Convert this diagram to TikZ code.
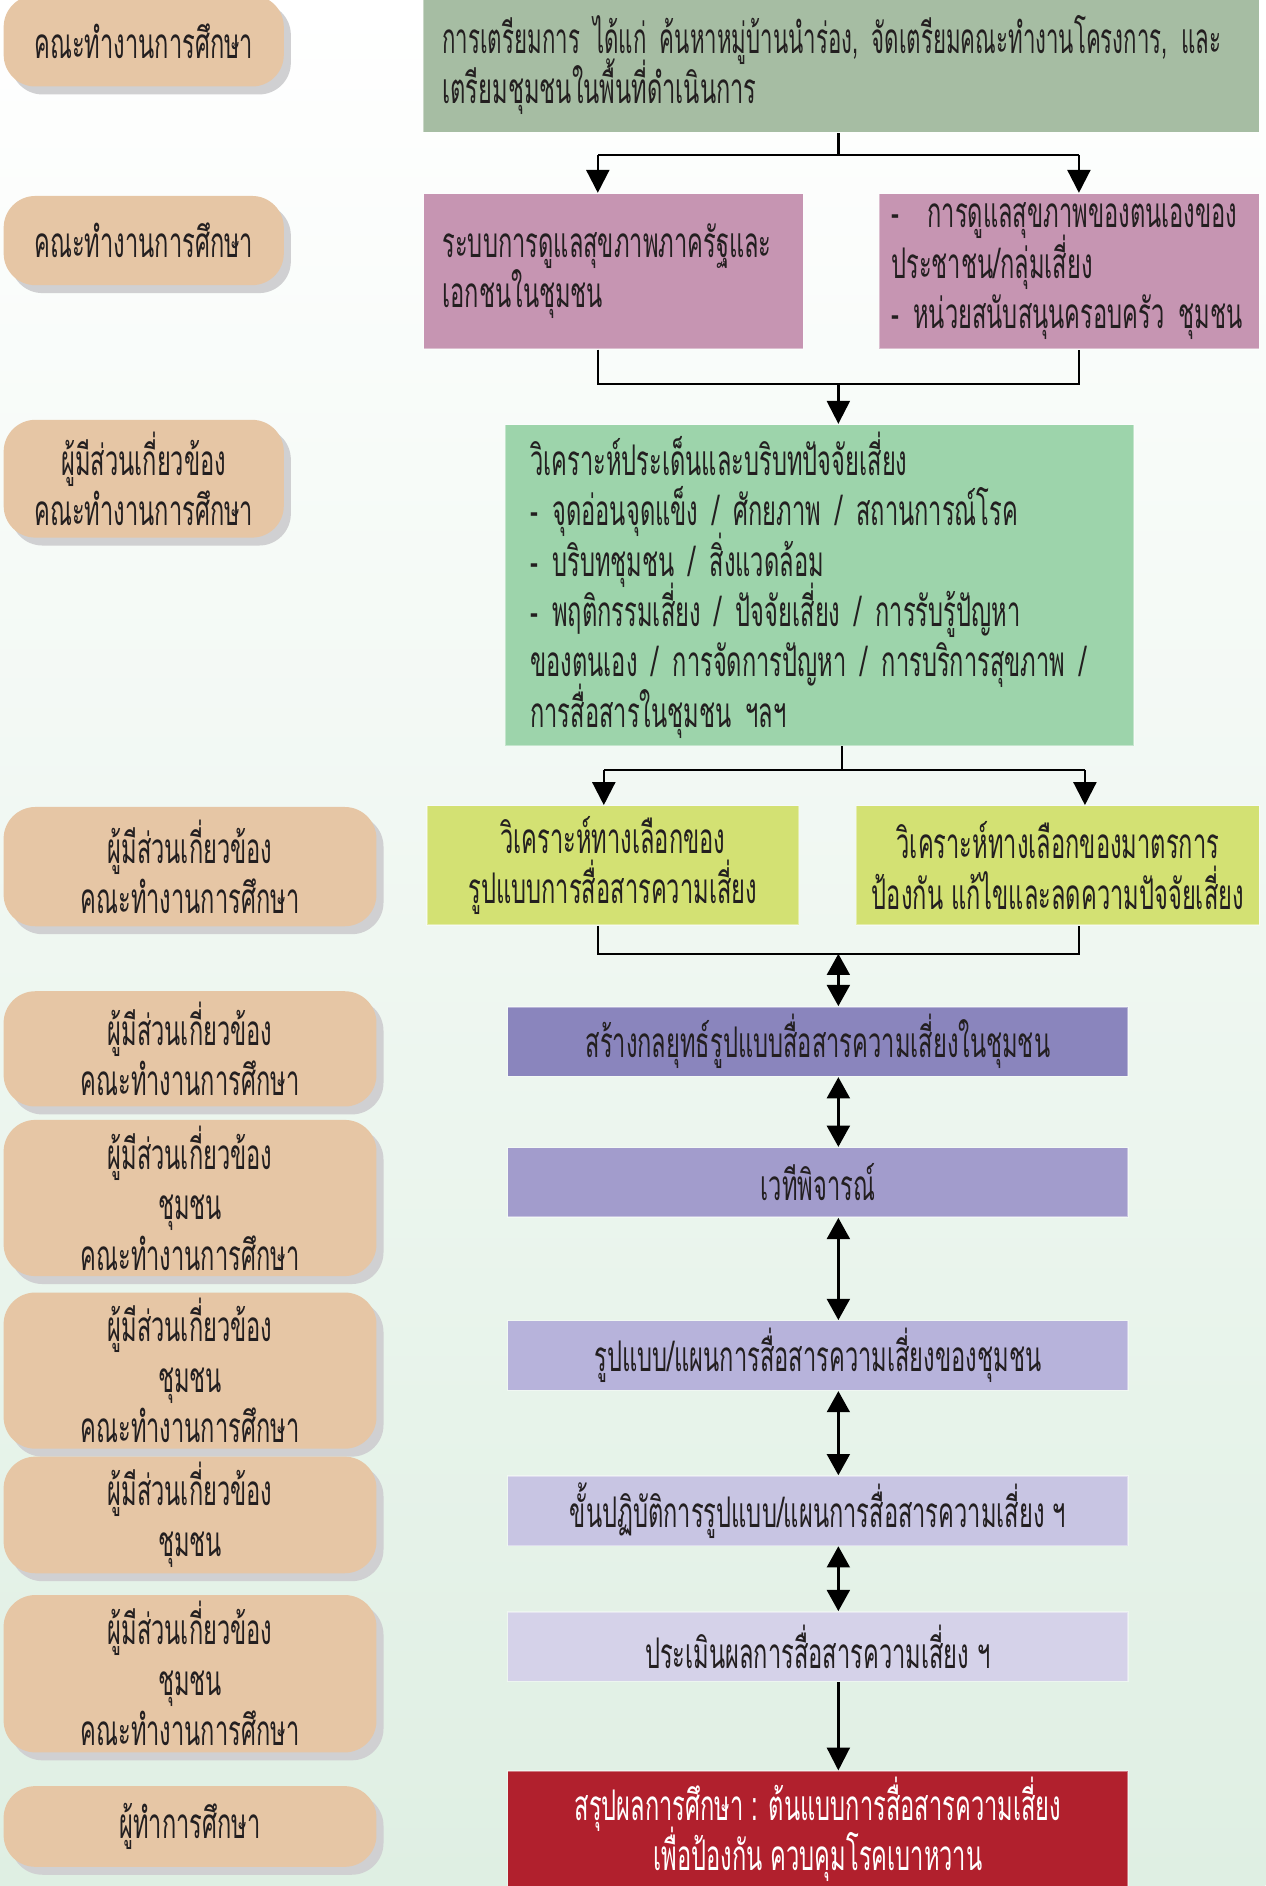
\documentclass[tikz,border=0pt]{standalone}
\usepackage{fontspec}
\newfontfamily\thaifont[Script=Thai,FakeStretch=0.56]{Loma}
\newcommand\thaitext{\thaifont\fontsize{24}{28.6}\selectfont
  \lineskiplimit=-30pt\relax}
\usetikzlibrary{arrows.meta,shadows}
\definecolor{ink}{HTML}{231F20}
\definecolor{tan}{HTML}{E6C6A5}
\definecolor{shade}{HTML}{D0D0D2}
\definecolor{sage}{HTML}{A6BDA3}
\definecolor{mauve}{HTML}{C695B2}
\definecolor{mint}{HTML}{9DD4AB}
\definecolor{lime}{HTML}{D3E173}
\definecolor{violetA}{HTML}{8A85BD}
\definecolor{violetB}{HTML}{A29CCC}
\definecolor{violetC}{HTML}{B7B3DB}
\definecolor{violetD}{HTML}{C8C5E3}
\definecolor{violetE}{HTML}{D5D2E9}
\definecolor{wine}{HTML}{B1202D}
\definecolor{bgmint}{HTML}{DFEFE3}
\begin{document}
\begin{tikzpicture}[
    x=0.024cm, y=-0.024cm,
    every node/.style={align=center, text=ink, font=\thaitext},
    role/.style={fill=tan, rounded corners=18pt,
      minimum width=5.59cm,
      copy shadow={shadow xshift=4pt, shadow yshift=-4.5pt,
        fill=shade, draw=none}},
    roleW/.style={role, minimum width=7.44cm},
    panel/.style={draw=white, draw opacity=0.4, line width=0.8pt,
      inner xsep=0.38cm, align=left},
    bar/.style={draw=white, draw opacity=0.4, line width=0.8pt,
      minimum width=12.38cm, minimum height=1.39cm},
    line/.style={line width=1.3pt},
    arr/.style={line, -{Triangle[width=13pt,length=13pt]}},
    both/.style={line, {Triangle[width=13pt,length=12pt]}-{Triangle[width=13pt,length=12pt]}}
  ]
    \useasboundingbox (0,0) rectangle (1052,1568);
    \fill[top color=white, middle color=white, bottom color=bgmint]
      (0,0) rectangle (1052,1568);

    \node[role, minimum height=1.82cm] (l1) at (119.5,34) {คณะทำงานการศึกษา};
    \node[role, minimum height=1.78cm] (l2) at (119.5,200) {คณะทำงานการศึกษา};
    \node[role, minimum height=2.35cm] (l3) at (119.5,398)
      {ผู้มีส่วนเกี่ยวข้อง\\คณะทำงานการศึกษา};
    \node[roleW, minimum height=2.38cm] (l4) at (158,720.5)
      {ผู้มีส่วนเกี่ยวข้อง\\คณะทำงานการศึกษา};
    \node[roleW, minimum height=2.3cm] (l5) at (158,872)
      {ผู้มีส่วนเกี่ยวข้อง\\คณะทำงานการศึกษา};
    \node[roleW, minimum height=2.93cm] (l6) at (158,996)
      {ผู้มีส่วนเกี่ยวข้อง\\ชุมชน\\คณะทำงานการศึกษา};
    \node[roleW, minimum height=2.76cm] (l7) at (158,1139.5)
      {ผู้มีส่วนเกี่ยวข้อง\\ชุมชน\\คณะทำงานการศึกษา};
    \node[roleW, minimum height=2.09cm] (l8) at (158,1259.5)
      {ผู้มีส่วนเกี่ยวข้อง\\ชุมชน};
    \node[roleW, minimum height=3.14cm] (l9) at (158,1391.5)
      {ผู้มีส่วนเกี่ยวข้อง\\ชุมชน\\คณะทำงานการศึกษา};
    \node[roleW, minimum height=1.61cm] (l10) at (158,1518.5) {ผู้ทำการศึกษา};

    \node[panel, fill=sage, text width=15.92cm, minimum height=2.69cm] (prep)
      at (699.5,54)
      {\scalebox{0.94}[1]{การเตรียมการ ได้แก่ ค้นหาหมู่บ้านนำร่อง, จัดเตรียมคณะทำงานโครงการ, และ}\\
       \mbox{เตรียมชุมชนในพื้นที่ดำเนินการ}};
    \node[panel, fill=mauve, text width=6.82cm, minimum height=3.1cm] (care)
      at (510,225.5)
      {\mbox{ระบบการดูแลสุขภาพภาครัฐและ}\\\mbox{เอกชนในชุมชน}\\[0.9cm]};
    \node[panel, fill=mauve, text width=7.1cm, inner xsep=0.24cm,
      minimum height=3.1cm] (self) at (889,225.5)
      {\makebox[7.1cm][s]{- \ การดูแลสุขภาพของตนเองของ}\\
       \mbox{ประชาชน/กลุ่มเสี่ยง}\\
       \makebox[7.1cm][s]{- หน่วยสนับสนุนครอบครัว ชุมชน}};
    \node[panel, fill=mint, text width=11.55cm, inner xsep=0.5cm,
      minimum height=6.41cm] (scan) at (681.5,486.5)
      {\mbox{วิเคราะห์ประเด็นและบริบทปัจจัยเสี่ยง}\\
       \mbox{- จุดอ่อนจุดแข็ง / ศักยภาพ / สถานการณ์โรค}\\
       \mbox{- บริบทชุมชน / สิ่งแวดล้อม}\\
       \makebox[11.5cm][s]{- พฤติกรรมเสี่ยง / ปัจจัยเสี่ยง / การรับรู้ปัญหา}\\
       \makebox[11.5cm][s]{ของตนเอง / การจัดการปัญหา / การบริการสุขภาพ /}\\
       \mbox{การสื่อสารในชุมชน ฯลฯ}};
    \node[bar, fill=lime, minimum width=7.42cm, minimum height=2.38cm] (optA)
      at (509.5,719.5) {วิเคราะห์ทางเลือกของ\\รูปแบบการสื่อสารความเสี่ยง};
    \node[bar, fill=lime, minimum width=8.04cm, minimum height=2.38cm] (optB)
      at (879.5,719.5)
      {วิเคราะห์ทางเลือกของมาตรการ\\ป้องกัน แก้ไขและลดความปัจจัยเสี่ยง};
    \node[bar, fill=violetA] (plan) at (680,866)
      {สร้างกลยุทธ์รูปแบบสื่อสารความเสี่ยงในชุมชน};
    \node[bar, fill=violetB] (forum) at (680,983) {เวทีพิจารณ์};
    \node[bar, fill=violetC] (model) at (680,1127)
      {รูปแบบ/แผนการสื่อสารความเสี่ยงของชุมชน};
    \node[bar, fill=violetD] (act) at (680,1256)
      {ขั้นปฏิบัติการรูปแบบ/แผนการสื่อสารความเสี่ยง ฯ};
    \node[bar, fill=violetE] (eval) at (680,1369)
      {ประเมินผลการสื่อสารความเสี่ยง ฯ};
    \node[bar, fill=wine, text=white, minimum height=2.28cm] (sum) at (680,1521)
      {สรุปผลการศึกษา : ต้นแบบการสื่อสารความเสี่ยง\\เพื่อป้องกัน ควบคุมโรคเบาหวาน};

    \coordinate (spine) at (697,0);
    \coordinate (f1) at (697,129);
    \coordinate (f1l) at (497,129);
    \coordinate (f1r) at (897,129);
    \coordinate (j1l) at (497,319);
    \coordinate (j1r) at (897,319);
    \coordinate (f2) at (700,640);
    \coordinate (f2l) at (502,640);
    \coordinate (f2r) at (902,640);
    \coordinate (j2l) at (497,793);
    \coordinate (j2r) at (897,793);

    \draw[line] (prep.south -| f1) -- (f1);
    \draw[line] (f1l) -- (f1r);
    \draw[arr] (f1l) -- (f1l |- care.north);
    \draw[arr] (f1r) -- (f1r |- self.north);
    \draw[line] (j1l |- care.south) -- (j1l) -- (j1r) -- (j1r |- self.south);
    \draw[arr] (j1l -| spine) -- (scan.north -| spine);
    \draw[line] (scan.south -| f2) -- (f2);
    \draw[line] (f2l) -- (f2r);
    \draw[arr] (f2l) -- (f2l |- optA.north);
    \draw[arr] (f2r) -- (f2r |- optB.north);
    \draw[line] (j2l |- optA.south) -- (j2l) -- (j2r) -- (j2r |- optB.south);
    \draw[both] (j2l -| spine) -- (plan.north -| spine);
    \draw[both] (plan.south -| spine) -- (forum.north -| spine);
    \draw[both] (forum.south -| spine) -- (model.north -| spine);
    \draw[both] (model.south -| spine) -- (act.north -| spine);
    \draw[both] (act.south -| spine) -- (eval.north -| spine);
    \draw[arr] (eval.south -| spine) -- (sum.north -| spine);
  \end{tikzpicture}
\end{document}
